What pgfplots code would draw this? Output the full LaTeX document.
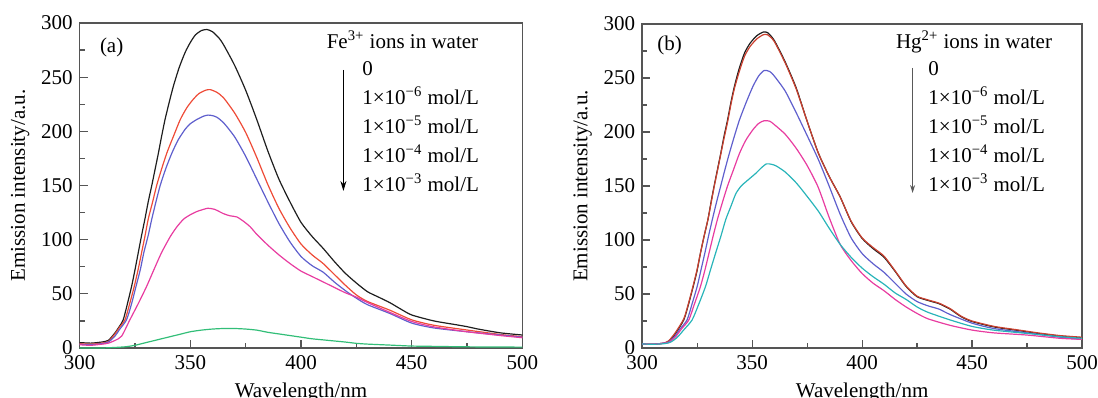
\documentclass[border=0pt]{standalone}
\usepackage{pgfplots}
\pgfplotsset{compat=1.18}
\usetikzlibrary{arrows.meta}
\usepackage{fontspec}
\setmainfont{Liberation Serif}
\definecolor{cBlack}{RGB}{30,30,30}
\definecolor{cRed}{RGB}{238,75,55}
\definecolor{cBlue}{RGB}{95,95,205}
\definecolor{cPink}{RGB}{232,60,160}
\definecolor{cGreen}{RGB}{50,190,120}
\definecolor{cCyan}{RGB}{40,180,185}
\definecolor{cAxis}{RGB}{85,85,85}
\pgfplotsset{
  spec/.style={
    scale only axis,
    xmin=300, xmax=500, ymin=0, ymax=300,
    xtick={300,350,...,500}, ytick={0,50,...,300},
    minor x tick num=1, minor y tick num=1,
    tick align=inside, tick pos=left,
    major tick length=4pt, minor tick length=2.5pt,
    axis line style={cAxis, line width=0.8pt},
    every tick/.style={cAxis, line width=0.6pt},
    tick label style={font=\fontsize{10.5}{12}\selectfont},
    label style={font=\fontsize{10.5}{12}\selectfont},
    /pgf/number format/assume math mode=true,
    xlabel={Wavelength/nm},
    ylabel={Emission intensity/a.u.},
    ylabel shift=-1pt,
    every axis plot/.append style={line width=0.6pt, mark=none, smooth, tension=0.4},
  }
}
\begin{document}
\begin{tikzpicture}
\path[use as bounding box] (0,0) rectangle (549pt,198.5pt);
% ---------- panel (a)
\begin{axis}[spec, at={(39.8pt,24.5pt)}, anchor=south west, width=221.4pt, height=162.5pt]
\addplot[cBlack] coordinates {(300,5)(305,4.5)(308,5)(310,5.5)(313,7)(316,14)(318,20)(319.7,26)(321.5,40)(323.5,57)(325,72)(326.5,88)(328,104)(329.5,119)(331,135)(332.6,150)(334,164)(335.6,180)(337,195)(338.6,211)(340.5,227)(342.4,242)(345,259)(347.7,273)(350,282)(352.3,289)(355,293)(357.5,294)(360,292)(363,286)(365,280)(370,261)(375,238)(380,211)(385,182)(390,156)(395,135)(400,116)(405,103)(410,92)(415,80)(420,69)(425,60)(430,52)(435,47)(440,42)(445,36)(450,30.5)(460,25)(470,21.5)(475,19.7)(480,17.5)(490,14)(500,12)};
\addplot[cRed] coordinates {(300,4)(305,3.5)(310,4.5)(313,6)(316,13)(318,19)(320.5,26)(322.5,40)(324.7,57)(326.5,73)(328,88)(329.5,103)(331,119)(333,135)(334.8,150)(337,165)(339.4,180)(342.5,196)(345.5,211)(348.5,222)(351.5,230)(354,235)(357,238)(359,238.5)(362,236)(365,231)(370,217)(375,199)(380,176)(385,151)(390,129)(395,111)(400,96)(405,86)(410,78)(415,68)(420,58)(425,49)(430,43)(440,35)(450,26)(460,21)(475,16.6)(490,12.5)(500,10.5)};
\addplot[cBlue] coordinates {(300,3.5)(305,3)(310,4)(313,5.5)(316,11)(318,17)(321.2,26)(323.5,41)(325.5,57)(327.5,73)(329,88)(331,104)(332.6,119)(334.5,135)(336.4,150)(339,166)(341.7,180)(344.5,192)(347.7,202)(350,207)(353,211)(356,214)(358,215)(360,214.5)(362,213)(365,208)(370,195)(375,177)(380,156)(385,135)(390,115)(395,98)(400,84.5)(405,76)(410,70)(415,61)(420,53)(425,46)(430,40)(440,32)(450,23)(460,18.5)(475,15)(490,12)(500,10)};
\addplot[cPink] coordinates {(300,3)(305,2.5)(310,3.5)(313,4.5)(316,7)(319,11)(322.7,26)(326.5,41)(330.3,57)(333.5,72)(337,88)(341,103)(344,112)(347,119)(350,123)(353,126)(356,128)(358,129)(361,128)(365,124)(368,122)(371,121)(374,117)(377,112)(380,105)(385,95)(390,86)(395,78)(400,71)(405,66)(410,61)(415,56)(420,51)(425,47)(430,42)(440,33)(450,24.5)(460,19.5)(475,15)(490,11.5)(500,9.5)};
\addplot[cGreen] coordinates {(300,0)(310,0)(320,1)(325,2.5)(330,5)(335,7.5)(340,10)(345,12.5)(350,15)(355,16.5)(360,17.5)(365,18)(370,18)(375,17.5)(380,16.5)(385,14.5)(390,13)(395,11.5)(400,10)(405,8.5)(410,7.5)(415,6.5)(420,5.5)(425,4.3)(430,3.6)(440,2.7)(450,1.8)(460,1.5)(470,1.2)(480,1)(500,0.8)};
\end{axis}
% ---------- panel (b)
\begin{axis}[spec, at={(321.1pt,24.5pt)}, anchor=south west, width=219.9pt, height=162pt]
\addplot[cBlack] coordinates {(300,3.7)(305,3.5)(310,4.5)(312,6)(315,13)(318.9,26)(321,40)(323.2,57)(325,72)(326.5,88)(328.2,104)(329.9,119)(331.3,135)(332.7,150)(334.2,165)(335.7,180)(337.2,196)(338.8,211)(340.3,227)(341.9,242)(344,258)(346.5,273)(349,282)(352,289)(355,292.5)(357,292)(360,285)(365,265)(370,241)(375,210)(380,181)(385,159)(390,140)(395,117)(400,101.5)(405,92)(410,84)(415,71)(420,57)(425,47.5)(430,44)(435,41)(440,36)(445,29)(450,24.5)(460,19.5)(470,16.5)(475,15)(480,13.5)(490,11)(500,9.5)};
\addplot[cRed!85!black] coordinates {(300,3.7)(305,3.5)(310,4.5)(312,6.5)(315,14)(318.9,27)(321,41)(323.2,58)(325,73)(326.5,88)(328.2,104)(329.9,119)(331.3,134)(332.7,149)(334.2,164)(335.7,179)(337.2,194)(338.8,209)(340.3,225)(341.9,240)(344,255)(346.5,270)(349,279)(352,286)(355,290)(357,290)(360,284)(365,264)(370,240)(375,210)(380,181)(385,159)(390,140)(395,117.5)(400,102)(405,93)(410,85)(415,71.5)(420,57.5)(425,48)(430,44.5)(435,41.5)(440,36.5)(445,29.5)(450,25)(460,20)(470,17)(475,15.5)(480,14)(490,11.5)(500,10)};
\addplot[cBlue] coordinates {(300,3.7)(305,3.5)(310,4.5)(312,5.5)(315,11)(317,17)(320.4,26)(322.7,41)(325,57)(326.7,72)(328.5,88)(330.2,104)(331.9,119)(333.8,135)(335.7,150)(337.6,165)(339.6,180)(341.9,196)(344.2,211)(347.2,227)(350.3,242)(353,252)(355.5,257)(358,256)(360,252)(365,238)(370,218)(374,201)(380,175)(385,150)(390,124)(395,102)(400,87.5)(405,78)(410,70)(415,60)(420,50)(425,43)(430,39)(435,36)(440,31)(450,23)(460,18)(475,14)(490,10)(500,8)};
\addplot[cPink] coordinates {(300,3.7)(305,3.5)(310,4.5)(312,5)(315,10)(318,18)(321.2,26)(323.8,41)(326.5,57)(328.5,72)(330.4,88)(332.3,104)(334.2,119)(336.5,135)(338.8,150)(341.5,165)(344.2,180)(347,192)(350.3,202)(353,208)(355.5,210.5)(358,210)(360,207)(365,198)(370,185)(375,169)(380,149)(385,121)(390,96)(395,81)(400,69)(405,60)(410,53)(415,45)(420,38)(425,32)(430,27)(440,21)(450,16.6)(460,14)(475,12)(490,9)(500,8)};
\addplot[cCyan] coordinates {(300,3.7)(305,3.5)(310,4)(313,5.5)(316,10)(319,17)(322.7,26)(325.8,41)(328.8,57)(331,72)(333.4,88)(335.7,103)(338,119)(340.3,131)(342.6,143)(345,150)(347.2,154)(349.5,158)(351.8,162)(354,166.5)(356.5,170.5)(359,170)(361,168.5)(365,163)(370,153)(374,143)(380,127)(385,111)(390,96)(395,84)(400,74)(405,66)(410,59)(415,51)(420,45)(425,38)(430,33)(440,26)(450,20)(460,16.5)(475,13.5)(490,10.5)(500,9)};
\end{axis}
% ---------- annotations
\begin{scope}[font=\fontsize{10.5}{12}\selectfont]
\node[anchor=base west, inner sep=0pt] at (49.8pt,172pt) {(a)};
\node[anchor=base west, inner sep=0pt] at (163.2pt,174.3pt) {Fe\textsuperscript{3+} ions in water};
\draw[-{Stealth[length=5pt,width=3pt]}, line width=0.6pt] (171.7pt,163.5pt) -- (171.7pt,103pt);
\foreach \t [count=\i from 0] in {0,1×10\textsuperscript{−6} mol/L,1×10\textsuperscript{−5} mol/L,1×10\textsuperscript{−4} mol/L,1×10\textsuperscript{−3} mol/L}
  \node[anchor=base west, inner sep=0pt] at (181pt,160.5pt-\i*14.45pt) {\t};
\node[anchor=base west, inner sep=0pt] at (328.5pt,173pt) {(b)};
\node[anchor=base west, inner sep=0pt] at (447.8pt,174.3pt) {Hg\textsuperscript{2+} ions in water};
\draw[-{Stealth[length=4pt,width=2.5pt]}, line width=0.5pt, gray!70!black] (456.3pt,164.5pt) -- (456.3pt,102pt);
\foreach \t [count=\i from 0] in {0,1×10\textsuperscript{−6} mol/L,1×10\textsuperscript{−5} mol/L,1×10\textsuperscript{−4} mol/L,1×10\textsuperscript{−3} mol/L}
  \node[anchor=base west, inner sep=0pt] at (464pt,160.5pt-\i*14.45pt) {\t};
\end{scope}
\end{tikzpicture}
\end{document}
